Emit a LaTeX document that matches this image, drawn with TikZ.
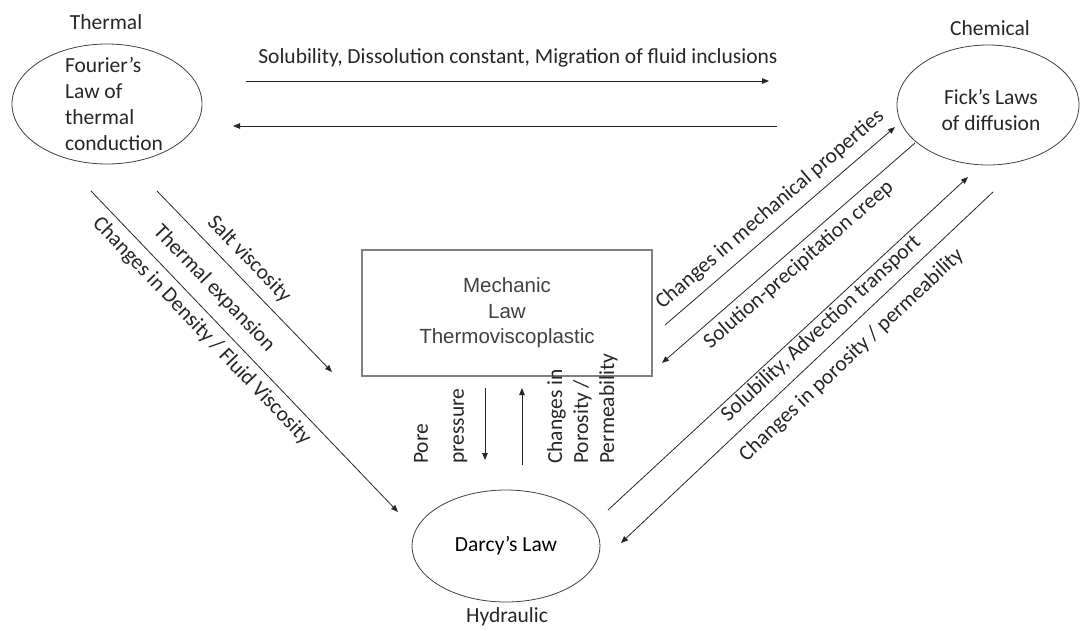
\documentclass[tikz,border=0pt]{standalone}
\usepackage{fontspec}
\setmainfont{Carlito}
\newfontfamily\arialfont{Liberation Sans}
\usetikzlibrary{shapes.geometric,arrows.meta}

\begin{document}
\begin{tikzpicture}[
x=1pt, y=-1pt,
font=\fontsize{21.5}{26}\selectfont,
>={Triangle[length=7pt,width=5.5pt]}
]

\tikzstyle{el} = [draw=black!75, line width=0.8pt, shape=ellipse, inner sep=0pt]
\tikzstyle{bx} = [draw=black!50, line width=1.3pt, shape=rectangle, minimum width=290pt, minimum height=126pt, text=black!75, align=center, font=\arialfont\fontsize{20.5}{25.5}\selectfont]
\tikzstyle{ar} = [->, draw=black!85, line width=0.8pt]
\tikzstyle{lb} = [text=black!85, inner sep=2pt]

\useasboundingbox (0,0) rectangle (1080,630);

% the four laws
\node[el, minimum width=190pt, minimum height=120pt] (fourier) at (107,104) {};
\node[lb, align=left] (fouriertext) at (114,104) {Fourier’s\\Law of\\thermal\\conduction};
\node[el, minimum width=182pt, minimum height=120pt] (fick) at (988,105) {};
\node[lb, align=center] (ficktext) at (991,110) {Fick’s Laws\\of diffusion};
\node[bx] (mech) at (507,313) {Mechanic\\Law\\Thermoviscoplastic};
\node[el, minimum width=188pt, minimum height=112pt] (darcy) at (506,546) {Darcy’s Law};

\node[lb] (thermal) at (106,22) {Thermal};
\node[lb] (chemical) at (990,28) {Chemical};
\node[lb] (hydraulic) at (507,617) {Hydraulic};

% arrow ends
\coordinate (tca) at (246,81);  \coordinate (tcb) at (769,81);
\coordinate (cta) at (777,126); \coordinate (ctb) at (233,126);
\coordinate (tha) at (91,191);  \coordinate (thb) at (398,512);
\coordinate (tma) at (157,191); \coordinate (tmb) at (332,372);
\coordinate (mca) at (665,325); \coordinate (mcb) at (895,127);
\coordinate (cma) at (915,143); \coordinate (cmb) at (662,363);
\coordinate (hca) at (608,510); \coordinate (hcb) at (968,177);
\coordinate (cha) at (993,192); \coordinate (chb) at (621,543);
\coordinate (mha) at (485,388); \coordinate (mhb) at (485,460);
\coordinate (hma) at (522,465); \coordinate (hmb) at (522,388);

% thermal <-> chemical
\draw[ar] (tca) -- node[lb, above, pos=0.52, inner ysep=13pt] (lsol) {Solubility, Dissolution constant, Migration of fluid inclusions} (tcb);
\draw[ar] (cta) -- (ctb);

% thermal -> mechanic, hydraulic
\draw[ar] (tha) -- node[lb, sloped, below, pos=0.40, inner ysep=7pt] (ldens) {Changes in Density / Fluid Viscosity}
  node[lb, sloped, above, pos=0.35, inner ysep=12pt] (lexp) {Thermal expansion} (thb);
\draw[ar] (tma) -- node[lb, sloped, above, pos=0.45, inner ysep=9pt] (lsalt) {Salt viscosity} (tmb);

% mechanic, hydraulic <-> chemical
\draw[ar] (mca) -- node[lb, sloped, above, pos=0.51, inner ysep=9pt] (lmech) {Changes in mechanical properties} (mcb);
\draw[ar] (cma) -- node[lb, sloped, below, pos=0.50, inner ysep=6pt] (lcreep) {Solution-precipitation creep} (cmb);
\draw[ar] (hca) -- node[lb, sloped, below, pos=0.57, inner ysep=2pt] (ladv) {Solubility, Advection transport} (hcb);
\draw[ar] (cha) -- node[lb, sloped, below, pos=0.42, inner ysep=12pt] (lperm) {Changes in porosity / permeability} (chb);

% mechanic <-> hydraulic
\draw[ar] (mha) -- (mhb);
\draw[ar] (hma) -- (hmb);
\node[lb, rotate=90, anchor=north west, align=left, inner sep=0pt] (lpore) at (414,464) {Pore\\[10pt]pressure};
\node[lb, rotate=90, anchor=north west, align=left, inner sep=0pt] (lporo) at (547,464) {Changes in\\Porosity /\\Permeability};

\end{tikzpicture}
\end{document}
